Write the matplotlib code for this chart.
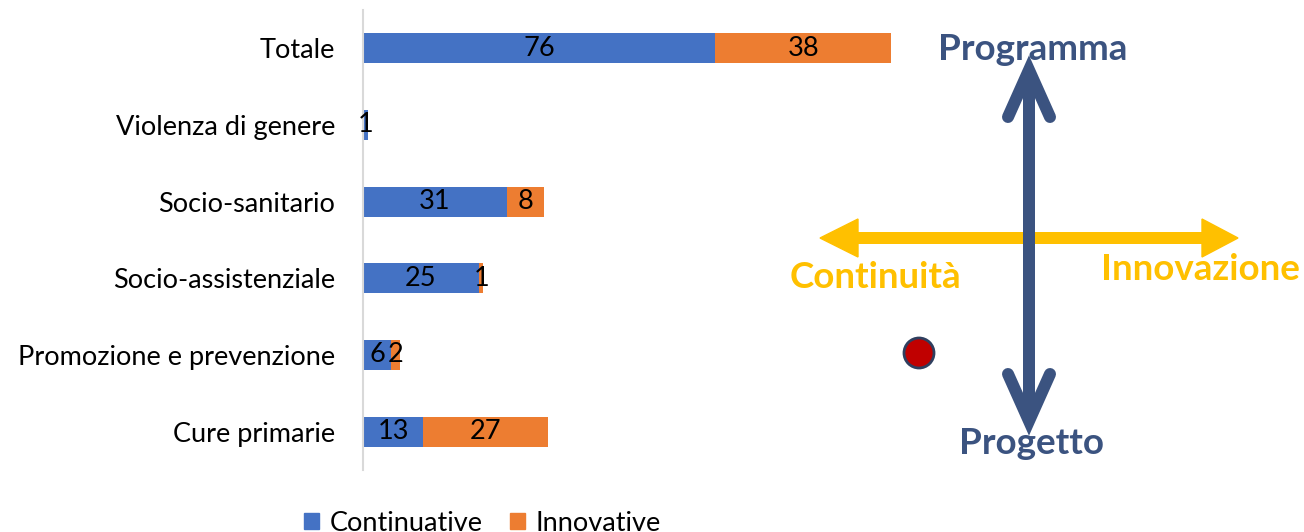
import numpy as np
import matplotlib.pyplot as plt
from matplotlib.patches import Polygon, Circle, Patch

plt.rcParams['font.family'] = ['Lato', 'DejaVu Sans']

# data
categories = ['Totale', 'Violenza di genere', 'Socio-sanitario',
              'Socio-assistenziale', 'Promozione e prevenzione', 'Cure primarie']
continuative = [76, 1, 31, 25, 6, 13]
innovative = [38, 0, 8, 1, 2, 27]

BLUE = '#4472C4'
ORANGE = '#ED7D31'
NAVY = '#3B5380'
YELLOW = '#FFC000'

W, H = 1304, 532
fig = plt.figure(figsize=(W / 100, H / 100), dpi=100)

# bar chart
ax = fig.add_axes([363 / W, 1 - 470 / H, 556 / W, 460 / H])
y = np.arange(len(categories))
ax.barh(y, continuative, height=0.39, color=BLUE, label='Continuative')
ax.barh(y, innovative, left=continuative, height=0.39, color=ORANGE, label='Innovative')
for i in range(len(categories)):
    c, n = continuative[i], innovative[i]
    if c:
        ax.text(c / 2, y[i], str(c), ha='center', va='center', fontsize=19.5, color='black')
    if n:
        ax.text(c + n / 2, y[i], str(n), ha='center', va='center', fontsize=19.5, color='black')
ax.set_xlim(0, 120)
ax.set_ylim(len(categories) - 0.5, -0.5)
ax.set_yticks(y)
ax.set_yticklabels(categories, fontsize=19.5)
ax.tick_params(axis='y', length=0, pad=20)
ax.set_xticks([])
for s in ['top', 'right', 'bottom']:
    ax.spines[s].set_visible(False)
ax.spines['left'].set_color('#D9D9D9')
ax.spines['left'].set_linewidth(1.5)
ax.patch.set_alpha(0)

leg_handles = [Patch(color=BLUE), Patch(color=ORANGE)]
fig.legend(leg_handles, ['Continuative', 'Innovative'], loc='upper left',
           bbox_to_anchor=(293 / W, 1 - 500 / H), ncol=2, frameon=False,
           fontsize=19.5, handlelength=0.55, handleheight=0.55,
           handletextpad=0.4, columnspacing=1.0, borderaxespad=0)

# diagram overlay in pixel coordinates
dx = fig.add_axes([0, 0, 1, 1])
dx.set_xlim(0, W)
dx.set_ylim(H, 0)
dx.axis('off')
dx.patch.set_alpha(0)

lw = 12 * 0.72
# horizontal yellow double arrow
dx.plot([850, 1210], [238, 238], color=YELLOW, lw=lw, solid_capstyle='butt')
dx.add_patch(Polygon([[820, 238], [858, 219], [858, 257]], closed=True, color=YELLOW))
dx.add_patch(Polygon([[1238, 238], [1202, 219], [1202, 257]], closed=True, color=YELLOW))
# vertical navy double arrow
dx.plot([1029, 1029], [72, 418], color=NAVY, lw=lw, solid_capstyle='butt')
dx.plot([1008, 1029, 1050], [117, 70, 117], color=NAVY, lw=lw,
        solid_capstyle='round', solid_joinstyle='miter')
dx.plot([1008, 1029, 1050], [374, 421, 374], color=NAVY, lw=lw,
        solid_capstyle='round', solid_joinstyle='miter')

dx.text(1033, 50, 'Programma', ha='center', va='center', fontsize=26.5,
        fontweight='bold', color=NAVY)
dx.text(1032, 443, 'Progetto', ha='center', va='center', fontsize=26.5,
        fontweight='bold', color=NAVY)
dx.text(790, 278, 'Continuità', ha='left', va='center', fontsize=26.5,
        fontweight='bold', color=YELLOW)
dx.text(1101, 270, 'Innovazione', ha='left', va='center', fontsize=26.5,
        fontweight='bold', color=YELLOW)

dx.add_patch(Circle((919, 353), 15, facecolor='#C00000', edgecolor='#2F3F5F', lw=2))

fig.savefig('out.png', dpi=100)
